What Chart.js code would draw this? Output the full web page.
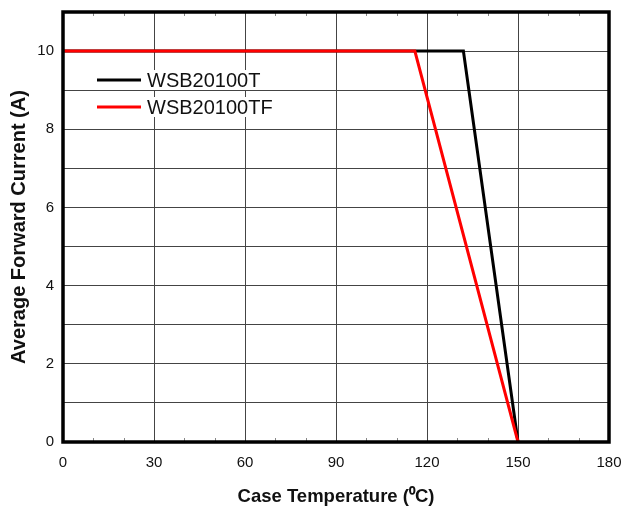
<!DOCTYPE html>
<html>
<head>
<meta charset="utf-8">
<script src="https://cdn.jsdelivr.net/npm/chart.js@4"></script>
<style>
  html, body { margin: 0; padding: 0; background: #fff; }
  #wrap { width: 622px; height: 509px; }
</style>
</head>
<body>
<div id="wrap"><canvas id="myChart" width="622" height="509"></canvas></div>
<script>
// derating curves
const seriesNames = ['WSB20100T', 'WSB20100TF'];
const tempT = [0, 132, 150];
const currentT = [10, 10, 0];
const tempTF = [0, 116, 150];
const currentTF = [10, 10, 0];
const xTicks = [0, 30, 60, 90, 120, 150, 180];
const yTicks = [0, 2, 4, 6, 8, 10];

const FONT = '"Liberation Sans", Arial, sans-serif';

function pts(xs, ys) {
  return xs.map((x, i) => ({ x: x, y: ys[i] }));
}

// thick frame + little minor marks along top/bottom edge
const framePlugin = {
  id: 'frame',
  afterDatasetsDraw(chart) {
    const { ctx, chartArea: a, scales } = chart;
    ctx.save();
    ctx.strokeStyle = '#888';
    ctx.lineWidth = 1;
    for (let v = 10; v < 180; v += 10) {
      if (v % 30 === 0) continue;
      const px = Math.round(scales.x.getPixelForValue(v)) + 0.5;
      ctx.beginPath();
      ctx.moveTo(px, a.top); ctx.lineTo(px, a.top + 4);
      ctx.moveTo(px, a.bottom); ctx.lineTo(px, a.bottom - 4);
      ctx.stroke();
    }
    ctx.strokeStyle = '#000';
    ctx.lineWidth = 3.5;
    ctx.strokeRect(a.left, a.top, a.right - a.left, a.bottom - a.top);
    ctx.restore();
  }
};

// legend sitting inside the plot, text on white
const legendPlugin = {
  id: 'innerLegend',
  afterDatasetsDraw(chart) {
    const { ctx } = chart;
    const items = [chart.data.datasets[0], chart.data.datasets[1]];
    ctx.save();
    ctx.font = '20px ' + FONT;
    ctx.textBaseline = 'middle';
    items.forEach((ds, i) => {
      const y = 80 + i * 27;
      const w = ctx.measureText(ds.label).width;
      ctx.fillStyle = '#fff';
      ctx.fillRect(146, y - 10, w + 3, 20);
      ctx.strokeStyle = ds.borderColor;
      ctx.lineWidth = 3;
      ctx.beginPath();
      ctx.moveTo(97, y); ctx.lineTo(141, y);
      ctx.stroke();
      ctx.fillStyle = '#111';
      ctx.fillText(ds.label, 147, y + 1);
    });
    ctx.restore();
  }
};

new Chart(document.getElementById('myChart'), {
  type: 'line',
  data: {
    datasets: [
      {
        label: seriesNames[0],
        data: pts(tempT, currentT),
        borderColor: '#000000',
        borderWidth: 3,
        pointRadius: 0,
        tension: 0,
        order: 1
      },
      {
        label: seriesNames[1],
        data: pts(tempTF, currentTF),
        borderColor: '#ff0000',
        borderWidth: 3,
        pointRadius: 0,
        tension: 0,
        order: 0
      }
    ]
  },
  options: {
    responsive: false,
    animation: false,
    layout: { padding: { top: 12, right: 13, left: 0, bottom: 0 } },
    plugins: {
      legend: { display: false },
      tooltip: { enabled: false }
    },
    scales: {
      x: {
        type: 'linear',
        min: 0,
        max: 180,
        afterBuildTicks: (s) => { s.ticks = xTicks.map(v => ({ value: v })); },
        afterFit: (s) => {
          s.height = 67;
          s.paddingLeft = 0; s.paddingRight = 0;
        },
        ticks: {
          color: '#111',
          font: { family: FONT, size: 15 },
          padding: 12,
          maxRotation: 0
        },
        grid: { color: '#444', lineWidth: 1, drawTicks: false },
        border: { display: false },
        title: {
          display: true,
          text: 'Case Temperature (\u2070C)',
          color: '#111',
          font: { family: FONT, size: 18.5, weight: 'bold' },
          padding: { top: 0, bottom: 1 }
        }
      },
      y: {
        type: 'linear',
        min: 0,
        max: 11,
        ticks: {
          stepSize: 1,
          color: '#111',
          font: { family: FONT, size: 15 },
          padding: 9,
          callback: (v) => yTicks.includes(v) ? v : ''
        },
        afterFit: (s) => {
          s.width = 63;
          s.paddingTop = 0; s.paddingBottom = 0;
        },
        grid: { color: '#444', lineWidth: 1, drawTicks: false },
        border: { display: false },
        title: {
          display: true,
          text: 'Average Forward Current (A)',
          color: '#111',
          font: { family: FONT, size: 20, weight: 'bold' },
          padding: { top: 7, bottom: 0 }
        }
      }
    }
  },
  plugins: [framePlugin, legendPlugin]
});
</script>
</body>
</html>
